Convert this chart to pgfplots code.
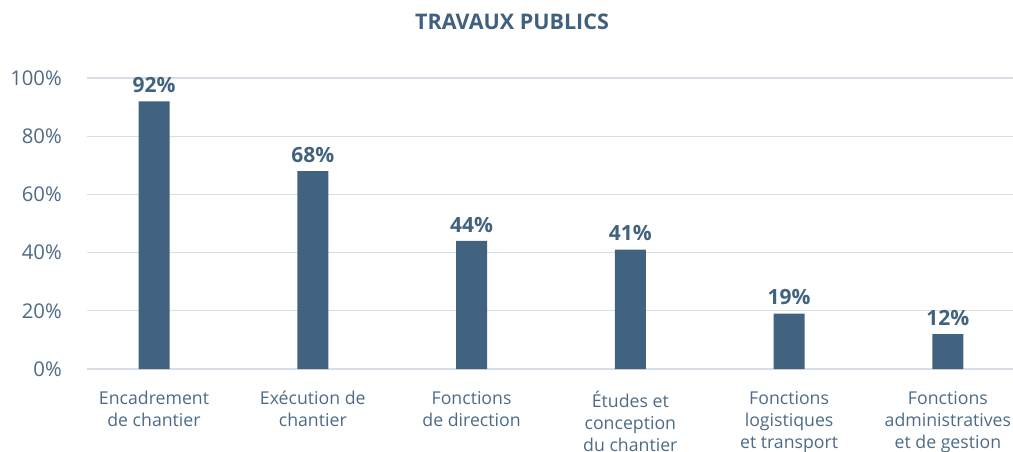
\documentclass[border=0pt]{standalone}
\usepackage{fontspec}
\setmainfont{Open Sans}
\usepackage{pgfplots}
\pgfplotsset{compat=1.18}
\definecolor{barblue}{HTML}{42637F}
\definecolor{txtblue}{HTML}{4E6B86}
\definecolor{titleblue}{HTML}{3F607E}
\definecolor{gridgray}{HTML}{D9DEE6}

\begin{document}
\begin{tikzpicture}
\begin{axis}[
  scale only axis,
  width=926pt, height=291pt,
  ybar, bar width=31pt,
  xmin=-0.422, xmax=5.41,
  ymin=0, ymax=100,
  ytick={0,20,...,100},
  yticklabel={\pgfmathprintnumber{\tick}\%},
  xtick=data,
  xticklabels={{Encadrement\\de chantier},{Exécution de\\chantier},{Fonctions\\de direction},{Études et\\conception\\du chantier},{Fonctions\\logistiques\\et transport},{Fonctions\\administratives\\et de gestion}},
  axis line style={draw=none},
  major tick length=0pt,
  ymajorgrids, grid style={gridgray, line width=1.3pt},
  yticklabel style={font=\fontsize{20.3}{24}\selectfont, text=txtblue, anchor=east, inner sep=0pt, xshift=-25pt},
  xticklabel style={font=\fontsize{17.7}{22}\selectfont, text=txtblue, align=center, anchor=north, inner sep=0pt, yshift=-22pt},
  nodes near coords={\pgfmathprintnumber{\pgfplotspointmeta}\%},
  every node near coord/.append style={font=\bfseries\fontsize{21}{25}\selectfont, text=barblue, inner sep=0pt, anchor=south, yshift=8.5pt},
  /pgf/number format/assume math mode=true,
]
% parts de recrutement par famille de métiers
\addplot[fill=barblue, draw=none] coordinates {(0,92) (1,68) (2,44) (3,41) (4,19) (5,12)};
\end{axis}
\node[font=\bfseries\fontsize{21.5}{25}\selectfont, text=titleblue] at (425pt,347pt) {TRAVAUX PUBLICS};
\pgfresetboundingbox
\path (-87pt,-82pt) rectangle (926pt,369pt);
\end{tikzpicture}
\end{document}
